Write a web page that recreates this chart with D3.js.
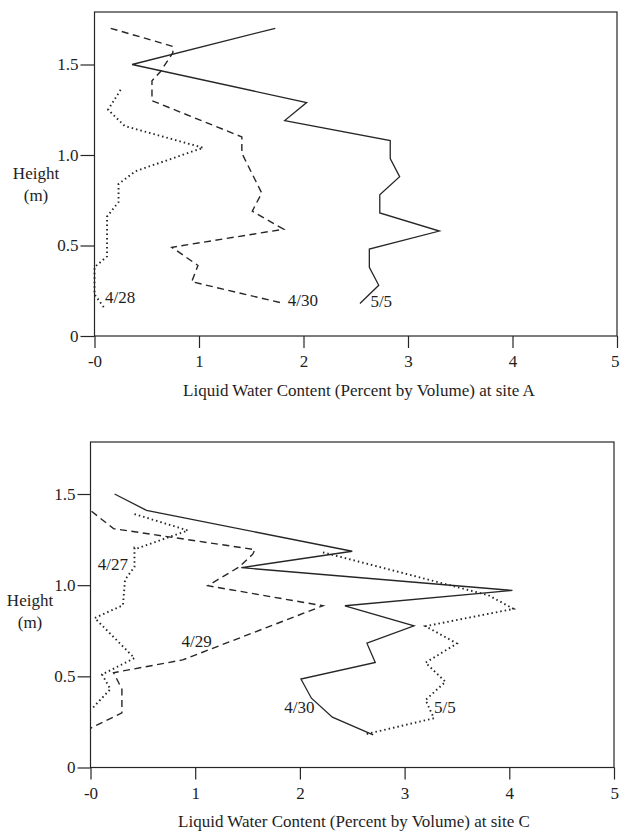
<!DOCTYPE html>
<html>
<head>
<meta charset="utf-8">
<script src="https://cdn.jsdelivr.net/npm/d3@7"></script>
<style>
  html, body { margin: 0; padding: 0; background: #ffffff; }
  svg { display: block; }
  text { font-family: "Liberation Serif", "Times New Roman", serif; fill: #1e1e1e; }
</style>
</head>
<body>
<svg id="chart" width="620" height="833"></svg>
<script>
// ---------- tick values / labels ----------
const xTickValues = [0, 1, 2, 3, 4, 5];
const xTickLabels = ["-0", "1", "2", "3", "4", "5"];
const yTickValues = [0, 0.5, 1.0, 1.5];
const yTickLabels = ["0", "0.5", "1.0", "1.5"];

// ---------- Site A (top panel) ----------
const siteA_dates = ["4/28", "4/30", "5/5"];
const siteA_0428_lwc = [0.25, 0.13, 0.29, 1.04, 0.39, 0.23, 0.23, 0.12, 0.12, 0.00, 0.00, 0.10];
const siteA_0428_h   = [1.36, 1.25, 1.16, 1.04, 0.91, 0.84, 0.74, 0.66, 0.44, 0.38, 0.23, 0.15];
const siteA_0430_lwc = [0.155, 0.75, 0.75, 0.63, 0.55, 0.55, 1.41, 1.41, 1.60, 1.51, 1.81, 0.74, 0.99, 0.93, 1.81];
const siteA_0430_h   = [1.70, 1.60, 1.565, 1.46, 1.41, 1.30, 1.10, 1.01, 0.79, 0.69, 0.59, 0.49, 0.39, 0.30, 0.18];
const siteA_0505_lwc = [1.73, 0.36, 2.03, 1.82, 2.83, 2.83, 2.92, 2.73, 2.73, 3.30, 2.63, 2.63, 2.72, 2.54];
const siteA_0505_h   = [1.70, 1.50, 1.29, 1.19, 1.08, 0.98, 0.88, 0.78, 0.68, 0.58, 0.48, 0.38, 0.28, 0.18];

// ---------- Site C (bottom panel) ----------
const siteC_dates = ["4/27", "4/29", "4/30", "5/5"];
const siteC_0427_lwc = [0.42, 0.93, 0.73, 0.44, 0.42, 0.42, 0.33, 0.31, 0.04, 0.42, 0.11, 0.19, 0.01];
const siteC_0427_h   = [1.39, 1.30, 1.26, 1.20, 1.205, 1.10, 1.03, 0.89, 0.82, 0.60, 0.51, 0.43, 0.32];
const siteC_0429_lwc = [0.01, 0.22, 1.57, 1.55, 1.42, 1.12, 2.22, 0.88, 0.22, 0.30, 0.30, 0.00];
const siteC_0429_h   = [1.405, 1.31, 1.195, 1.17, 1.10, 0.997, 0.887, 0.59, 0.52, 0.43, 0.30, 0.215];
const siteC_0430_lwc = [0.23, 0.535, 2.50, 1.44, 4.03, 2.43, 3.09, 2.64, 2.72, 2.01, 2.11, 2.31, 2.70];
const siteC_0430_h   = [1.50, 1.41, 1.186, 1.096, 0.971, 0.887, 0.777, 0.682, 0.576, 0.485, 0.38, 0.276, 0.179];
const siteC_0505_lwc = [2.22, 3.80, 4.04, 3.20, 3.50, 3.20, 3.39, 3.20, 3.28, 2.61];
const siteC_0505_h   = [1.18, 0.945, 0.87, 0.775, 0.68, 0.575, 0.47, 0.37, 0.27, 0.18];

// ---------- styles ----------
const INK = "#262626";
const STYLES = {
  solid:  { width: 1.3, dash: null },
  dashed: { width: 1.4, dash: "7 4.5" },
  dotted: { width: 1.9, dash: "1.5 3" }
};

const svg = d3.select("#chart");

function zip(lwc, h) { return lwc.map((v, i) => ({ v: v, h: h[i] })); }

function drawPanel(cfg) {
  const g = svg.append("g");
  const x = d3.scaleLinear().domain([0, 5]).range(cfg.xRange);
  const y = d3.scaleLinear().domain([0, 1.5]).range(cfg.yRange);

  // frame
  g.append("rect")
    .attr("x", x(0)).attr("y", cfg.frameTop)
    .attr("width", x(5) - x(0)).attr("height", y(0) - cfg.frameTop)
    .attr("fill", "none").attr("stroke", INK).attr("stroke-width", 1.2);

  // x axis
  const xAxis = d3.axisBottom(x).tickValues(xTickValues)
    .tickFormat((d, i) => xTickLabels[i])
    .tickSize(12).tickPadding(7).tickSizeOuter(0);
  const gx = g.append("g").attr("transform", `translate(0,${y(0)})`).call(xAxis);
  gx.select(".domain").remove();
  gx.selectAll("line").attr("stroke", INK).attr("stroke-width", 1.2);
  gx.selectAll("text").style("font-size", "17px").attr("fill", "#1e1e1e");
  // keep the last tick label inside the page edge
  gx.selectAll(".tick").filter(d => d === 5).select("text")
    .attr("text-anchor", "end").attr("x", Math.min(4.5, 619 - x(5)));

  // y axis
  const yAxis = d3.axisLeft(y).tickValues(yTickValues)
    .tickFormat((d, i) => yTickLabels[i])
    .tickSize(cfg.yTickSize).tickPadding(2).tickSizeOuter(0);
  const gy = g.append("g").attr("transform", `translate(${x(0)},0)`).call(yAxis);
  gy.select(".domain").remove();
  gy.selectAll("line").attr("stroke", INK).attr("stroke-width", 1.2);
  gy.selectAll("text").style("font-size", "17px").attr("fill", "#1e1e1e");

  // series
  const line = d3.line().x(d => x(d.v)).y(d => y(d.h));
  cfg.series.forEach(s => {
    const st = STYLES[s.style];
    g.append("path").datum(zip(s.lwc, s.h))
      .attr("d", line)
      .attr("fill", "none")
      .attr("stroke", INK)
      .attr("stroke-width", st.width)
      .attr("stroke-linejoin", "miter")
      .attr("stroke-dasharray", st.dash);
  });

  // series labels
  cfg.labels.forEach(l => {
    g.append("text").attr("x", x(l.v)).attr("y", y(l.h))
      .style("font-size", "17px").text(l.text);
  });

  // axis titles
  g.append("text").attr("x", cfg.titleX).attr("y", cfg.titleY)
    .attr("text-anchor", "middle").style("font-size", "17px").text(cfg.title);
  g.append("text").attr("x", cfg.heightX).attr("y", cfg.heightY)
    .attr("text-anchor", "middle").style("font-size", "17px").text("Height");
  g.append("text").attr("x", cfg.heightX).attr("y", cfg.heightY + 22)
    .attr("text-anchor", "middle").style("font-size", "17px").text("(m)");
}

drawPanel({
  xRange: [94.5, 617], yRange: [336, 64.5], frameTop: 12, yTickSize: 14,
  title: "Liquid Water Content (Percent by Volume) at site A",
  titleX: 359, titleY: 396, heightX: 36, heightY: 179,
  series: [
    { lwc: siteA_0428_lwc, h: siteA_0428_h, style: "dotted" },
    { lwc: siteA_0430_lwc, h: siteA_0430_h, style: "dashed" },
    { lwc: siteA_0505_lwc, h: siteA_0505_h, style: "solid" }
  ],
  labels: [
    { text: siteA_dates[0], v: 0.10, h: 0.18 },
    { text: siteA_dates[1], v: 1.85, h: 0.165 },
    { text: siteA_dates[2], v: 2.64, h: 0.16 }
  ]
});

drawPanel({
  xRange: [90.5, 614], yRange: [767.5, 494], frameTop: 442, yTickSize: 13,
  title: "Liquid Water Content (Percent by Volume) at site C",
  titleX: 354, titleY: 827, heightX: 30, heightY: 606,
  series: [
    { lwc: siteC_0427_lwc, h: siteC_0427_h, style: "dotted" },
    { lwc: siteC_0429_lwc, h: siteC_0429_h, style: "dashed" },
    { lwc: siteC_0430_lwc, h: siteC_0430_h, style: "solid" },
    { lwc: siteC_0505_lwc, h: siteC_0505_h, style: "dotted" }
  ],
  labels: [
    { text: siteC_dates[0], v: 0.07, h: 1.085 },
    { text: siteC_dates[1], v: 0.87, h: 0.66 },
    { text: siteC_dates[2], v: 1.85, h: 0.30 },
    { text: siteC_dates[3], v: 3.28, h: 0.30 }
  ]
});
</script>
</body>
</html>
